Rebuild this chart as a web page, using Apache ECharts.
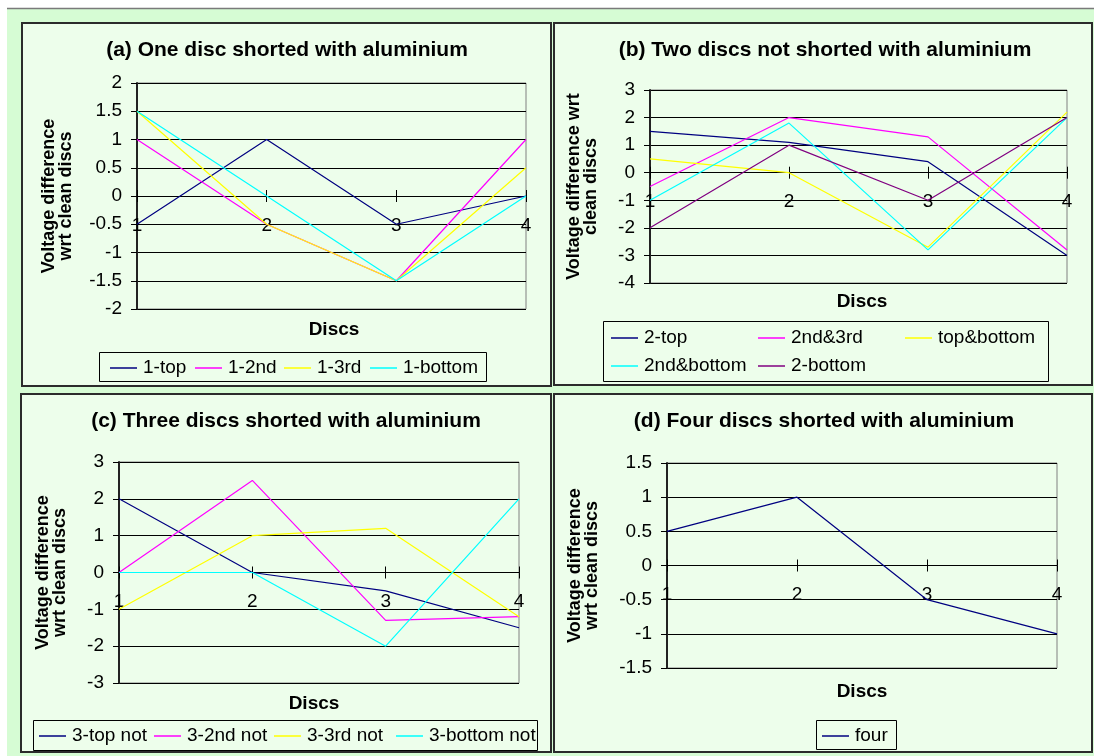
<!DOCTYPE html>
<html><head><meta charset="utf-8">
<script src="https://cdn.jsdelivr.net/npm/echarts@6/dist/echarts.min.js"></script>
<style>html,body{margin:0;padding:0;background:#fff}#c{width:1094px;height:756px}</style>
</head><body><div id="c"></div><script>
// ---- data ----
const categories = ['1', '2', '3', '4'];

const aNames = ['1-top', '1-2nd', '1-3rd', '1-bottom'];
const a_1top = [-0.5, 1, -0.5, 0];
const a_12nd = [1, -0.5, -1.5, 1];
const a_13rd = [1.5, -0.5, -1.5, 0.5];
const a_1bottom = [1.5, 0, -1.5, 0];

const bNames = ['2-top', '2nd&3rd', 'top&bottom', '2nd&bottom', '2-bottom'];
const b_2top = [1.5, 1.1, 0.4, -3];
const b_2nd3rd = [-0.5, 2, 1.3, -2.8];
const b_topbottom = [0.5, 0, -2.7, 2.2];
const b_2ndbottom = [-1, 1.8, -2.8, 2];
const b_2bottom = [-2, 1, -1, 2];

const cNames = ['3-top not', '3-2nd not', '3-3rd not', '3-bottom not'];
const c_3top = [2, 0, -0.5, -1.5];
const c_32nd = [0, 2.5, -1.3, -1.2];
const c_33rd = [-1, 1, 1.2, -1.2];
const c_3bottom = [0, 0, -2, 2];

const dNames = ['four'];
const d_four = [0.5, 1, -0.5, -1];

const titles = ['(a) One disc shorted with aluminium', '(b) Two discs not shorted with aluminium',
  '(c) Three discs shorted with aluminium', '(d) Four discs shorted with aluminium'];
const xName = 'Discs';
const yNames = ['Voltage difference\nwrt clean discs', 'Voltage difference wrt\nclean discs',
  'Voltage difference\nwrt clean discs', 'Voltage difference\nwrt clean discs'];

// ---- styling ----
const NAVY = '#000080', MAG = '#ff00ff', YEL = '#ffff00', CYAN = '#00ffff', PURP = '#800080';
const FONT = '"Liberation Sans", Arial, sans-serif';
const OUTER = '#d6fcd4', PANEL = '#edfeeb';

const grids = [
  {left: 137, top: 83, width: 389, height: 226},
  {left: 650, top: 90, width: 417, height: 193},
  {left: 119, top: 462, width: 400, height: 221},
  {left: 667, top: 463, width: 390, height: 205}
];
const yRanges = [[-2, 2, 0.5], [-4, 3, 1], [-3, 3, 1], [-1.5, 1.5, 0.5]];
const yNameGaps = [62, 50, 50, 66];

const xAxes = [], yAxes = [];
grids.forEach((g, i) => {
  const r = yRanges[i];
  // distance of the zero line from the bottom / top of the plot area
  const zeroFromBottom = g.height * (0 - r[0]) / (r[1] - r[0]);
  const zeroFromTop = g.height - zeroFromBottom;
  xAxes.push({
    type: 'category', gridIndex: i, data: categories, boundaryGap: false, position: 'bottom',
    offset: -zeroFromBottom, z: 3,
    axisLine: {onZero: false, lineStyle: {color: '#000', width: 1}},
    axisTick: {show: true, length: 6, lineStyle: {color: '#000'}},
    axisLabel: {color: '#000', fontSize: 19, fontFamily: FONT, margin: 20},
    splitLine: {show: false}
  });
  xAxes.push({
    type: 'category', gridIndex: i, data: categories, boundaryGap: false, position: 'top',
    offset: -zeroFromTop, z: 3,
    axisLine: {onZero: false, lineStyle: {color: '#000', width: 1}},
    axisTick: {show: true, length: 6, lineStyle: {color: '#000'}},
    axisLabel: {show: false},
    splitLine: {show: false}
  });
  yAxes.push({
    type: 'value', gridIndex: i, min: r[0], max: r[1], interval: r[2], z: 3,
    name: yNames[i], nameLocation: 'middle', nameGap: yNameGaps[i], nameRotate: 90,
    nameTextStyle: {color: '#000', fontSize: 18, fontWeight: 'bold', fontFamily: FONT, lineHeight: 17},
    axisLine: {show: true, lineStyle: {color: '#222', width: 2}},
    axisTick: {show: true, length: 6, lineStyle: {color: '#000'}},
    axisLabel: {color: '#000', fontSize: 19, fontFamily: FONT, margin: 15},
    splitLine: {show: true, lineStyle: {color: '#000', width: 1}}
  });
});

function line(name, data, color, gi) {
  return {name, type: 'line', data, xAxisIndex: gi * 2, yAxisIndex: gi, symbol: 'none', z: 4,
    lineStyle: {color, width: 1.2}, itemStyle: {color}, animation: false};
}

const series = [
  line(aNames[0], a_1top, NAVY, 0), line(aNames[1], a_12nd, MAG, 0),
  line(aNames[2], a_13rd, YEL, 0), line(aNames[3], a_1bottom, CYAN, 0),
  line(bNames[0], b_2top, NAVY, 1), line(bNames[1], b_2nd3rd, MAG, 1),
  line(bNames[2], b_topbottom, YEL, 1), line(bNames[3], b_2ndbottom, CYAN, 1),
  line(bNames[4], b_2bottom, PURP, 1),
  line(cNames[0], c_3top, NAVY, 2), line(cNames[1], c_32nd, MAG, 2),
  line(cNames[2], c_33rd, YEL, 2), line(cNames[3], c_3bottom, CYAN, 2),
  line(dNames[0], d_four, NAVY, 3)
];

// one legend per entry, so entries line up as in the original
function leg(name, left, cy) {
  return {
    data: [name], left, top: cy - 11, orient: 'horizontal', padding: 0,
    icon: 'rect', itemWidth: 27, itemHeight: 1.5, selectedMode: false,
    textStyle: {color: '#000', fontSize: 19, fontFamily: FONT, padding: [0, 0, 0, 1], lineHeight: 22}
  };
}
const legends = [
  leg(aNames[0], 110, 368), leg(aNames[1], 195, 368), leg(aNames[2], 284, 368), leg(aNames[3], 370, 368),
  leg(bNames[0], 611, 338), leg(bNames[1], 758, 338), leg(bNames[2], 905, 338),
  leg(bNames[3], 611, 366), leg(bNames[4], 758, 366),
  leg(cNames[0], 39, 736), leg(cNames[1], 154, 736), leg(cNames[2], 274, 736), leg(cNames[3], 396, 736),
  leg(dNames[0], 822, 736)
];

function rect(x, y, w, h, style, z) {
  return {type: 'rect', shape: {x, y, width: w, height: h}, style, z: z || 0, silent: true};
}
function txt(text, x, y, size) {
  return {type: 'text', x, y, z: 5, silent: true,
    style: {text, fill: '#000', font: 'bold ' + size + 'px ' + FONT, textAlign: 'center', textVerticalAlign: 'middle'}};
}

const graphic = [
  rect(7, 9, 1087, 747, {fill: OUTER}, 0),
  {type: 'line', shape: {x1: 7, y1: 8.5, x2: 1094, y2: 8.5}, style: {stroke: '#7a7a7a', lineWidth: 1.5}, z: 0, silent: true},
  rect(22, 23, 529, 363, {fill: PANEL, stroke: '#2b2b2b', lineWidth: 2}, 0),
  rect(554, 23, 538, 362, {fill: PANEL, stroke: '#2b2b2b', lineWidth: 2}, 0),
  rect(21, 394, 530, 358, {fill: PANEL, stroke: '#2b2b2b', lineWidth: 2}, 0),
  rect(554, 394, 538, 358, {fill: PANEL, stroke: '#2b2b2b', lineWidth: 2}, 0),
  // legend boxes
  rect(99.5, 352.5, 387, 29, {fill: 'none', stroke: '#000', lineWidth: 1}, 1),
  rect(603.5, 321.5, 445, 60, {fill: 'none', stroke: '#000', lineWidth: 1}, 1),
  rect(33.5, 720.5, 504, 30, {fill: 'none', stroke: '#000', lineWidth: 1}, 1),
  rect(816.5, 720.5, 80, 29, {fill: 'none', stroke: '#000', lineWidth: 1}, 1),
  // titles
  txt(titles[0], 287, 50, 21), txt(titles[1], 825, 50, 21),
  txt(titles[2], 286, 421, 21), txt(titles[3], 824, 421, 21),
  // x axis names
  txt(xName, 334, 330, 19), txt(xName, 862, 302, 19),
  txt(xName, 314, 704, 19), txt(xName, 862, 692, 19)
];

const chart = echarts.init(document.getElementById('c'), null, {renderer: 'canvas'});
chart.setOption({
  animation: false,
  backgroundColor: '#ffffff',
  grid: grids.map(g => Object.assign({show: true, borderColor: '#808080', borderWidth: 1, backgroundColor: 'transparent', z: 1}, g)),
  xAxis: xAxes,
  yAxis: yAxes,
  legend: legends,
  graphic: graphic,
  series: series
});
</script></body></html>
